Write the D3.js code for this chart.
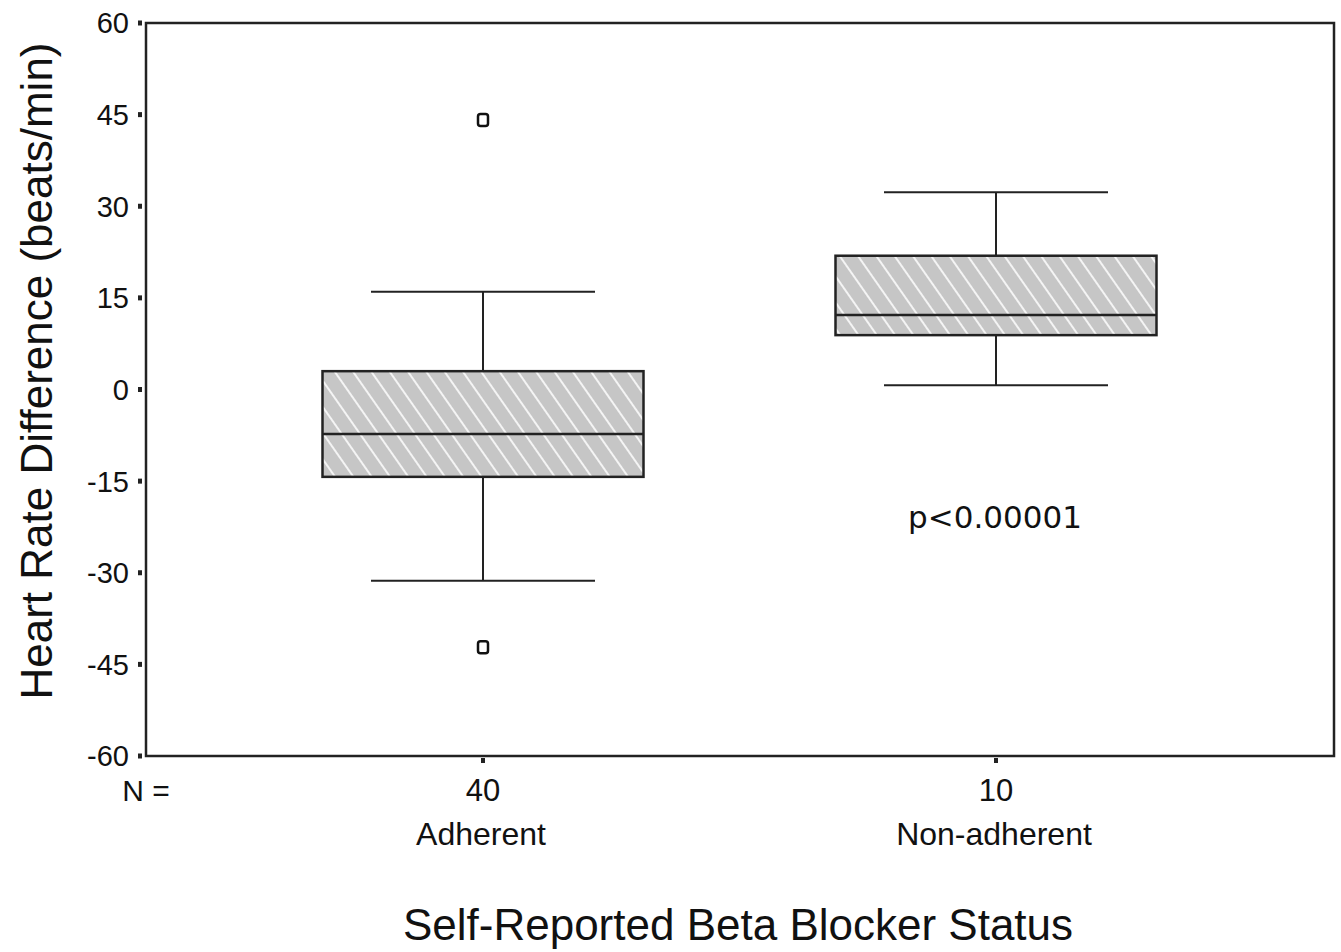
<!DOCTYPE html>
<html><head><meta charset="utf-8">
<script src="https://cdn.jsdelivr.net/npm/d3@7"></script>
<style>body{margin:0;background:#fff}svg{display:block}</style>
</head><body>
<script>
const categories = ["Adherent", "Non-adherent"];
const counts = [40, 10];
const whiskerLow = [-31.3, 0.7];
const q1 = [-14.3, 8.9];
const median = [-7.3, 12.2];
const q3 = [3.0, 21.9];
const whiskerHigh = [16.0, 32.3];
const outliers = [[44.1, -42.2], []];
const yTicks = [60, 45, 30, 15, 0, -15, -30, -45, -60];

const W = 1341, H = 952;
const m = {left:146, top:23, right:1334, bottom:756};
const svg = d3.select("body").append("svg").attr("width", W).attr("height", H);

const defs = svg.append("defs");
const pat = defs.append("pattern").attr("id","hatch").attr("patternUnits","userSpaceOnUse")
  .attr("width",15).attr("height",15).attr("patternTransform","rotate(-35)");
pat.append("rect").attr("width",15).attr("height",15).attr("fill","#c6c6c6");
pat.append("line").attr("x1",1).attr("y1",0).attr("x2",1).attr("y2",15)
  .attr("stroke","#f4f4f4").attr("stroke-width",2);

const y = d3.scaleLinear().domain([-60,60]).range([m.bottom, m.top]);
const xc = d3.scaleOrdinal().domain(categories).range([483, 996]);
const boxW = 321, capW = 224;

const font = "'Liberation Sans', Arial, sans-serif";

// frame
svg.append("rect").attr("x",m.left).attr("y",m.top).attr("width",m.right-m.left).attr("height",m.bottom-m.top)
  .attr("fill","none").attr("stroke","#222").attr("stroke-width",2.5);

// y axis ticks (dots) and labels
const yAxis = svg.append("g");
yAxis.selectAll("rect.t").data(yTicks).join("rect").attr("class","t")
  .attr("x",138).attr("y",d=>y(d)-2.5).attr("width",4).attr("height",5).attr("fill","#222");
yAxis.selectAll("text").data(yTicks).join("text")
  .attr("x",129).attr("y",d=>y(d)).attr("dy","0.36em").attr("text-anchor","end")
  .attr("font-family",font).attr("font-size",29).attr("fill","#111").text(d=>d);

// x ticks
svg.selectAll("rect.xt").data(categories).join("rect").attr("class","xt")
  .attr("x",d=>xc(d)-2).attr("y",758).attr("width",4).attr("height",5).attr("fill","#222");

// boxes
const g = svg.append("g");
categories.forEach((c,i)=>{
  const cx = xc(c);
  const line = (x1,y1,x2,y2)=>g.append("line").attr("x1",x1).attr("y1",y1).attr("x2",x2).attr("y2",y2)
     .attr("stroke","#222").attr("stroke-width",2);
  line(cx, y(whiskerHigh[i]), cx, y(q3[i]));
  line(cx, y(q1[i]), cx, y(whiskerLow[i]));
  line(cx-capW/2, y(whiskerHigh[i]), cx+capW/2, y(whiskerHigh[i]));
  line(cx-capW/2, y(whiskerLow[i]), cx+capW/2, y(whiskerLow[i]));
  g.append("rect").attr("x",cx-boxW/2).attr("y",y(q3[i])).attr("width",boxW).attr("height",y(q1[i])-y(q3[i]))
    .attr("fill","url(#hatch)").attr("stroke","#222").attr("stroke-width",2.5);
  line(cx-boxW/2, y(median[i]), cx+boxW/2, y(median[i])).attr("stroke-width",2.5);
  outliers[i].forEach(o=>{
    g.append("rect").attr("x",cx-5).attr("y",y(o)-6).attr("width",10).attr("height",12).attr("rx",2.5)
      .attr("fill","none").attr("stroke","#111").attr("stroke-width",2.5);
  });
});

// N labels
svg.append("text").attr("x",146).attr("y",790).attr("dy","0.36em").attr("text-anchor","middle")
  .attr("font-family",font).attr("font-size",30).attr("fill","#111").text("N =");
svg.selectAll("text.n").data(categories).join("text").attr("class","n")
  .attr("x",d=>xc(d)).attr("y",790).attr("dy","0.36em").attr("text-anchor","middle")
  .attr("font-family",font).attr("font-size",31).attr("fill","#111").text((d,i)=>counts[i]);
svg.selectAll("text.c").data(categories).join("text").attr("class","c")
  .attr("x",d=>xc(d)-2).attr("y",833).attr("dy","0.36em").attr("text-anchor","middle")
  .attr("font-family",font).attr("font-size",32).attr("fill","#111").text(d=>d);

// p-value
svg.append("text").attr("x",995).attr("y",517).attr("dy","0.36em").attr("text-anchor","middle")
  .attr("font-family","'DejaVu Sans', Verdana, sans-serif").attr("font-size",31).attr("fill","#111").text("p<0.00001");

// axis titles
svg.append("text").attr("x",738).attr("y",940).attr("text-anchor","middle")
  .attr("font-family",font).attr("font-size",44).attr("fill","#111").text("Self-Reported Beta Blocker Status");
svg.append("text").attr("transform","translate(36,371) rotate(-90)").attr("dy","0.36em").attr("text-anchor","middle")
  .attr("font-family",font).attr("font-size",44).attr("fill","#111").text("Heart Rate Difference (beats/min)");
</script>
</body></html>
